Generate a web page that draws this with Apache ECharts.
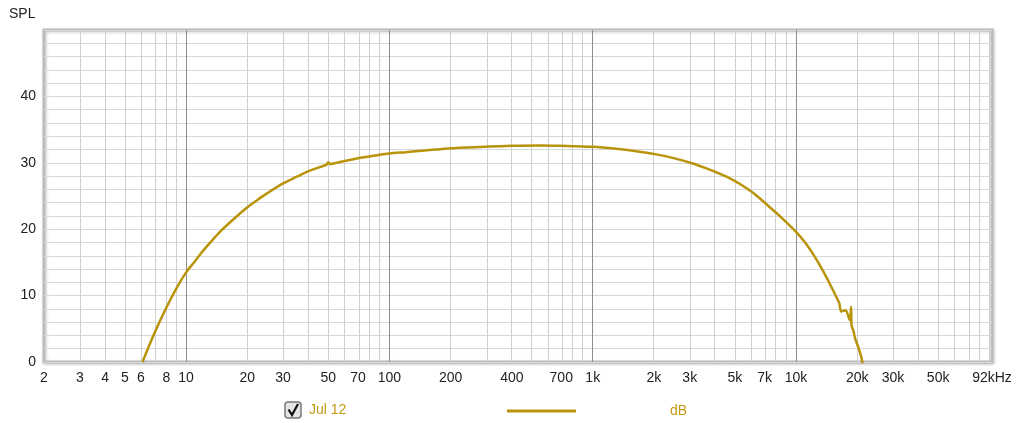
<!DOCTYPE html>
<html>
<head>
<meta charset="utf-8">
<script src="https://cdn.jsdelivr.net/npm/echarts@6/dist/echarts.min.js"></script>
<style>
  html, body { margin: 0; padding: 0; background: #fff; }
  #chart { width: 1017px; height: 423px; }
</style>
</head>
<body>
<div id="chart"></div>
<script>
// frequency response
var freqHz = [6.1, 7, 8, 9, 10, 11, 12, 13.5, 15, 18, 20, 22.4, 25, 30, 35, 39, 45, 48, 49, 50, 51, 55, 61, 70, 85,
  100, 120, 149, 178, 220, 311, 400, 549, 700, 1000, 1300, 1700, 2050, 2500, 3100, 3600, 4100, 4700, 5300, 6000,
  6600, 7500, 8500, 10000, 11200, 12500, 14200, 15200, 15900, 16300, 16700, 17500, 18400, 18650, 18750, 19200,
  19500, 20300, 21000, 21300];
var splDb = [0, 4.4, 8.2, 11.2, 13.5, 15.1, 16.6, 18.4, 19.9, 22.1, 23.3, 24.4, 25.4, 26.9, 27.9, 28.6, 29.3, 29.6, 29.7,
  30.1, 29.8, 30.0, 30.3, 30.7, 31.1, 31.4, 31.6, 31.85, 32.05, 32.25, 32.45, 32.55, 32.6, 32.55, 32.4, 32.1, 31.67,
  31.27, 30.7, 29.9, 29.2, 28.5, 27.7, 26.8, 25.7, 24.7, 23.2, 21.7, 19.6, 17.8, 15.6, 12.6, 10.8, 9.6, 8.9, 7.6,
  7.8, 6.3, 8.3, 5.5, 4.6, 3.6, 2.1, 0.6, -0.5];

var xLabels = [2, 3, 4, 5, 6, 8, 10, 20, 30, 50, 70, 100, 200, 400, 700, 1000, 2000, 3000, 5000, 7000,
  10000, 20000, 30000, 50000, 92000];
var decades = [10, 100, 1000, 10000];
var fMin = 2, fMax = 92000;

var lineColor = '#b9930a';
var font = "'Liberation Sans', Arial, sans-serif";

var chart = echarts.init(document.getElementById('chart'), null, { renderer: 'canvas' });

var points = freqHz.map(function (f, i) { return [Math.log10(f), splDb[i]]; });

// vertical grid lines: 2..9 in every decade light, decades darker
var gridMarks = [];
for (var d = 1; d <= 10000; d *= 10) {
  for (var m = 2; m <= 9; m++) {
    var f = m * d;
    if (f < fMin || f > fMax) continue;
    gridMarks.push({ xAxis: Math.log10(f), lineStyle: { color: '#d0d0d0', width: 1, type: 'solid' } });
  }
}
decades.forEach(function (f) {
  gridMarks.push({ xAxis: Math.log10(f), lineStyle: { color: '#8e8e8e', width: 1, type: 'solid' } });
});

function fmtFreq(v) {
  var f = Math.round(Math.pow(10, v));
  if (f >= 90000) return '92kHz';
  if (f >= 1000) return (f / 1000) + 'k';
  return '' + f;
}

var option = {
  animation: false,
  backgroundColor: '#fff',
  grid: {
    show: true,
    left: 44, right: 25, top: 30, bottom: 61,
    backgroundColor: '#fff',
    borderColor: '#bcbcbc',
    borderWidth: 3,
    shadowColor: 'rgba(0,0,0,0.2)',
    shadowBlur: 3,
    shadowOffsetX: 1,
    shadowOffsetY: 1
  },
  xAxis: {
    type: 'value',
    min: Math.log10(fMin),
    max: Math.log10(fMax),
    axisLine: { show: false },
    axisTick: { show: false },
    splitLine: { show: false },
    axisLabel: {
      customValues: xLabels.map(function (f) { return Math.log10(f); }),
      formatter: fmtFreq,
      color: '#222',
      fontFamily: font,
      fontSize: 14,
      margin: 9
    }
  },
  yAxis: {
    type: 'value',
    min: 0,
    max: 50,
    interval: 2,
    axisLine: { show: false },
    axisTick: { show: false },
    splitLine: { lineStyle: { color: '#d8d8d8', width: 1 } },
    axisLabel: {
      formatter: function (v) { return (v % 10 === 0 && v < 50) ? v : ''; },
      color: '#222',
      fontFamily: font,
      fontSize: 14,
      margin: 8
    }
  },
  series: [{
    type: 'line',
    data: [],
    silent: true,
    markLine: {
      silent: true,
      z: 1,
      symbol: 'none',
      label: { show: false },
      animation: false,
      data: gridMarks
    }
  }, {
    name: 'Jul 12',
    type: 'line',
    z: 3,
    data: points,
    showSymbol: false,
    smooth: 0.3,
    clip: true,
    lineStyle: { color: lineColor, width: 2.5 }
  }],
  graphic: [
    { type: 'text', left: 9, top: 7, style: { text: 'SPL', fill: '#222', font: '14px ' + font } },
    { type: 'rect', shape: { x: 285, y: 402, width: 16, height: 16, r: 3 },
      style: { fill: '#e6e6e6', stroke: '#777', lineWidth: 1.5 } },
    { type: 'polyline', shape: { points: [[288.5, 409.5], [292, 415], [298, 404]] },
      style: { stroke: '#111', lineWidth: 2.2, fill: null } },
    { type: 'text', x: 309, y: 410, style: { text: 'Jul 12', fill: '#c39a12', font: '14px ' + font, verticalAlign: 'middle' } },
    { type: 'line', shape: { x1: 507, y1: 411, x2: 576, y2: 411 }, style: { stroke: lineColor, lineWidth: 3 } },
    { type: 'text', x: 670, y: 411, style: { text: 'dB', fill: '#c39a12', font: '14px ' + font, verticalAlign: 'middle' } }
  ]
};

chart.setOption(option);
</script>
</body>
</html>
